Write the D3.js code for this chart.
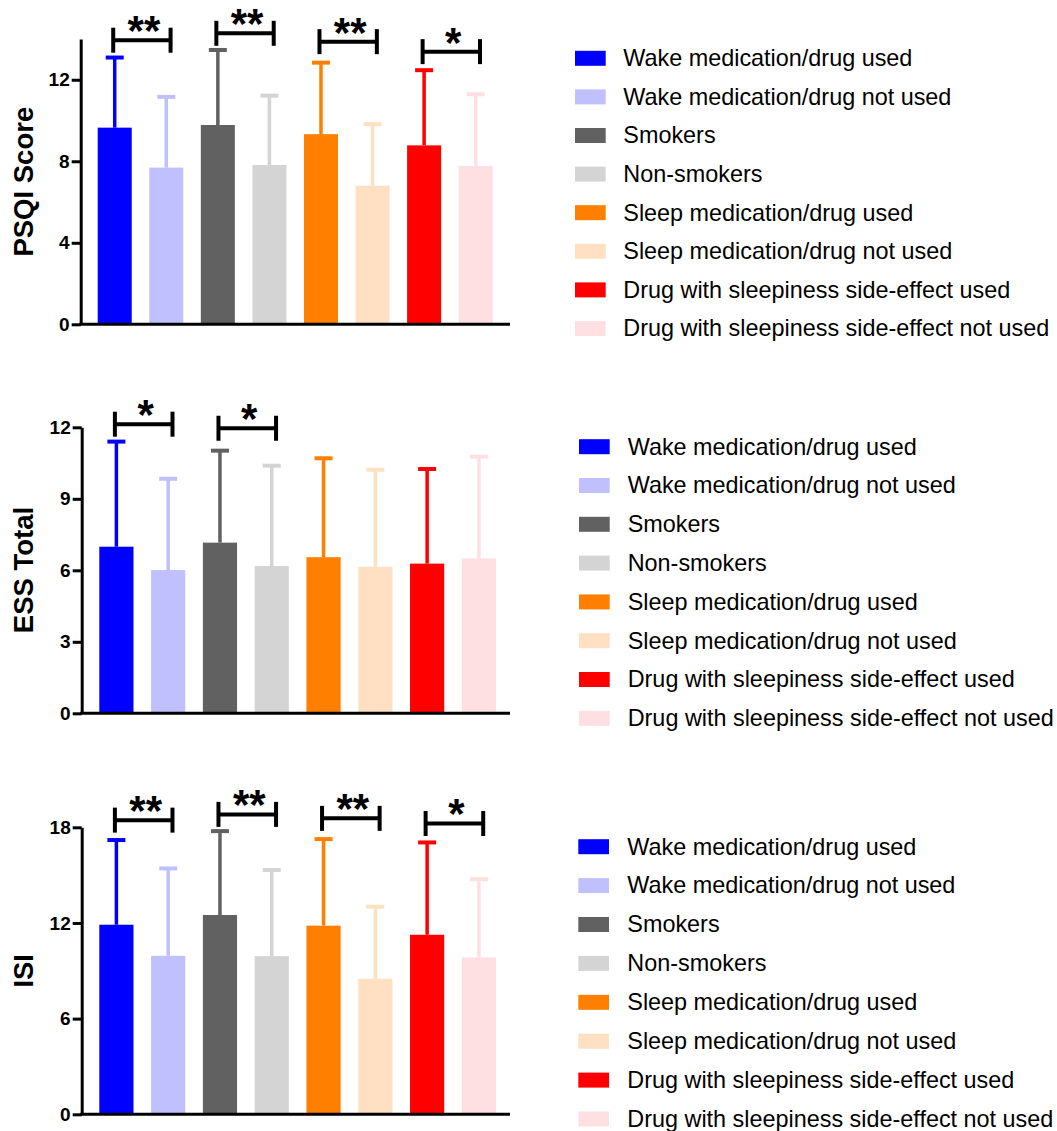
<!DOCTYPE html>
<html>
<head>
<meta charset="utf-8">
<script src="https://cdn.jsdelivr.net/npm/d3@7/dist/d3.min.js"></script>
<style>
  html, body { margin: 0; padding: 0; background: #fff; }
  svg { display: block; }
</style>
</head>
<body>
<svg id="chart" width="1057" height="1131"></svg>
<script>
// ---------- DATA ----------
const groups = [
  "Wake medication/drug used",
  "Wake medication/drug not used",
  "Smokers",
  "Non-smokers",
  "Sleep medication/drug used",
  "Sleep medication/drug not used",
  "Drug with sleepiness side-effect used",
  "Drug with sleepiness side-effect not used"
];
const colors = ["#0000FF", "#C0C0FF", "#616161", "#D4D4D4", "#FF8000", "#FFE0C2", "#FF0000", "#FFE0E2"];

const psqiMean = [9.65, 7.69, 9.78, 7.82, 9.33, 6.80, 8.78, 7.77];
const psqiSD   = [3.44, 3.47, 3.68, 3.40, 3.51, 3.02, 3.69, 3.52];
const psqiTicks = [0, 4, 8, 12];
const psqiSigY = [13.94, 14.28, 13.87, 13.38];
const psqiSigLabel = ["**", "**", "**", "*"];

const essMean = [6.99, 6.01, 7.16, 6.18, 6.55, 6.15, 6.28, 6.50];
const essSD   = [4.41, 3.83, 3.86, 4.21, 4.15, 4.07, 3.97, 4.27];
const essTicks = [0, 3, 6, 9, 12];
const essSigY = [12.13, 11.96];
const essSigLabel = ["*", "*"];

const isiMean = [11.89, 9.94, 12.50, 9.92, 11.83, 8.50, 11.26, 9.84];
const isiSD   = [5.31, 5.48, 5.26, 5.40, 5.43, 4.52, 5.79, 4.91];
const isiTicks = [0, 6, 12, 18];
const isiSigY = [18.45, 18.81, 18.56, 18.24];
const isiSigLabel = ["**", "**", "**", "*"];

// ---------- LAYOUT ----------
const panels = [
  { title: "PSQI Score", mean: psqiMean, sd: psqiSD, ticks: psqiTicks, max: 14,
    sigY: psqiSigY, sigLabel: psqiSigLabel,
    axisX: 80.7, base: 324.3, top: 39.0, barL: 97.7, barR: 492.7, xEnd: 510,
    labelY: 181.7,
    leg: { x: 575, tx: 623.3, y0: 58.3, dy: 38.6 } },
  { title: "ESS Total", mean: essMean, sd: essSD, ticks: essTicks, max: 12,
    sigY: essSigY, sigLabel: essSigLabel,
    axisX: 81.7, base: 713.3, top: 427.3, barL: 99.3, barR: 496, xEnd: 510,
    labelY: 570,
    leg: { x: 579, tx: 627.7, y0: 446.7, dy: 38.8 } },
  { title: "ISI", mean: isiMean, sd: isiSD, ticks: isiTicks, max: 18,
    sigY: isiSigY, sigLabel: isiSigLabel,
    axisX: 81.7, base: 1114.3, top: 827.3, barL: 99.3, barR: 496, xEnd: 510,
    labelY: 970.8,
    leg: { x: 578.3, tx: 627.3, y0: 846.7, dy: 38.9 } }
];

const svg = d3.select("#chart");
const font = "'Liberation Sans', Arial, Helvetica, sans-serif";

panels.forEach(p => {
  const g = svg.append("g");
  const y = d3.scaleLinear().domain([0, p.max]).range([p.base, p.top]);
  const x = d3.scaleBand().domain(d3.range(groups.length))
    .range([p.barL, p.barR]).paddingInner(0.34).paddingOuter(0);
  const bw = x.bandwidth();

  // bars
  g.selectAll("rect.bar").data(p.mean).join("rect")
    .attr("class", "bar")
    .attr("x", (d, i) => x(i))
    .attr("y", d => y(d))
    .attr("width", bw)
    .attr("height", d => y(0) - y(d))
    .attr("fill", (d, i) => colors[i]);

  // error bars (upper only)
  const eg = g.selectAll("g.err").data(p.mean).join("g").attr("class", "err");
  eg.append("line")
    .attr("x1", (d, i) => x(i) + bw / 2)
    .attr("x2", (d, i) => x(i) + bw / 2)
    .attr("y1", d => y(d))
    .attr("y2", (d, i) => y(d + p.sd[i]))
    .attr("stroke", (d, i) => colors[i])
    .attr("stroke-width", 3.5);
  eg.append("line")
    .attr("x1", (d, i) => x(i) + bw / 2 - 9)
    .attr("x2", (d, i) => x(i) + bw / 2 + 9)
    .attr("y1", (d, i) => y(d + p.sd[i]))
    .attr("y2", (d, i) => y(d + p.sd[i]))
    .attr("stroke", (d, i) => colors[i])
    .attr("stroke-width", 4);

  // y axis
  const ax = g.append("g")
    .attr("transform", `translate(${p.axisX},0)`)
    .call(d3.axisLeft(y).tickValues(p.ticks).tickSize(9).tickSizeOuter(0).tickPadding(2));
  ax.select(".domain").attr("stroke", "#000").attr("stroke-width", 3);
  ax.selectAll(".tick line").attr("stroke", "#000").attr("stroke-width", 3);
  ax.selectAll(".tick text")
    .attr("fill", "#000")
    .style("font-family", font)
    .style("font-weight", "bold")
    .style("font-size", "19px");

  // x axis line
  g.append("line")
    .attr("x1", p.axisX - 1.5).attr("x2", p.xEnd)
    .attr("y1", y(0)).attr("y2", y(0))
    .attr("stroke", "#000").attr("stroke-width", 3);

  // y label
  g.append("text")
    .attr("transform", `translate(33.3,${p.labelY}) rotate(-90)`)
    .attr("text-anchor", "middle")
    .style("font-family", font)
    .style("font-weight", "bold")
    .style("font-size", "27.5px")
    .attr("fill", "#000")
    .text(p.title);

  // significance brackets
  p.sigY.forEach((v, k) => {
    const i1 = 2 * k, i2 = 2 * k + 1;
    const xl = x(i1) + bw / 2 - 1.5;
    const xr = x(i2) + bw / 2 + 4.3;
    const yy = y(v);
    const bg = g.append("g");
    bg.append("line").attr("x1", xl).attr("x2", xr).attr("y1", yy).attr("y2", yy)
      .attr("stroke", "#000").attr("stroke-width", 4);
    [xl, xr].forEach(xx => {
      bg.append("line").attr("x1", xx).attr("x2", xx).attr("y1", yy - 12.5).attr("y2", yy + 12.5)
        .attr("stroke", "#000").attr("stroke-width", 4);
    });
    bg.append("text")
      .attr("x", (xl + xr) / 2 + 2)
      .attr("y", yy + 5)
      .attr("text-anchor", "middle")
      .style("font-family", font)
      .style("font-weight", "bold")
      .style("font-size", "42px")
      .attr("fill", "#000")
      .text(p.sigLabel[k]);
  });

  // legend
  const lg = g.append("g");
  groups.forEach((name, i) => {
    const cy = p.leg.y0 + i * p.leg.dy;
    lg.append("rect")
      .attr("x", p.leg.x).attr("y", cy - 7.5)
      .attr("width", 30.7).attr("height", 15)
      .attr("fill", colors[i]);
    lg.append("text")
      .attr("x", p.leg.tx).attr("y", cy + 0.358 * 22)
      .style("font-family", font)
      .style("font-size", "23.4px")
      .attr("fill", "#000")
      .text(name);
  });
});
</script>
</body>
</html>
